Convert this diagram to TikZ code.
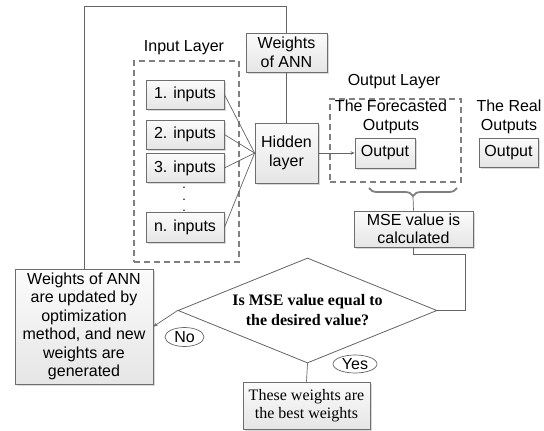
\documentclass[tikz,border=0pt]{standalone}
\usepackage{fontspec}
\setmainfont{Liberation Sans}
\newfontfamily\tnr{Liberation Serif}
\usetikzlibrary{shapes.geometric,shadows,arrows.meta,decorations.pathreplacing,calc}
\definecolor{linec}{RGB}{100,100,100}
\definecolor{boxline}{RGB}{110,110,110}
\begin{document}
\begin{tikzpicture}[x=1pt,y=-1pt,
  font=\fontsize{16}{18.5}\selectfont,
  box/.style={draw=boxline, line width=0.8pt, top color=gray!3, bottom color=gray!20,
    drop shadow={shadow xshift=1.5pt, shadow yshift=-1.5pt, opacity=0.3, fill=gray},
    inner sep=0pt, align=center},
  dashbox/.style={draw=gray, line width=1.1pt, dash pattern=on 6pt off 4pt, inner sep=0pt},
  lbl/.style={inner sep=0pt, align=center},
  conn/.style={draw=linec, line width=0.7pt},
  arr/.style={-{Stealth[length=4pt,width=3.5pt]}},
  oval/.style={ellipse, draw=linec, line width=0.7pt, fill=white, inner sep=0pt}
]
\useasboundingbox (0,0) rectangle (544,431);

% input layer
\node[lbl] (inl) at (184,48) {Input Layer};
\node[dashbox, minimum width=105, minimum height=201] (inbox) at (186.5,161.5) {};
\node[box, minimum width=78, minimum height=29] (in1) at (185,94.5) {1. inputs};
\node[box, minimum width=78, minimum height=29] (in2) at (185,134.5) {2. inputs};
\node[box, minimum width=78, minimum height=29] (in3) at (185,168) {3. inputs};
\node[lbl, font=\fontsize{9}{11.5}\selectfont\bfseries] (dots) at (184,199.5) {.\\.\\.};
\node[box, minimum width=78, minimum height=30] (in4) at (185,227.5) {n. inputs};

% weights & hidden
\node[box, minimum width=81, minimum height=39] (w) at (286.5,52.5) {Weights\\of ANN};
\node[box, minimum width=63, minimum height=60] (hid) at (286.5,153) {Hidden\\layer};

% output layer
\node[lbl] (outl) at (394,82) {Output Layer};
\node[dashbox, minimum width=131, minimum height=83] (outbox) at (395.5,140.5) {};
\node[lbl, font=\fontsize{16}{19.5}\selectfont] (fcl) at (391,117) {The Forecasted\\Outputs};
\node[box, minimum width=60, minimum height=30] (fout) at (385,153) {Output};
\node[lbl, font=\fontsize{16}{19.5}\selectfont] (rl) at (509,117) {The Real\\Outputs};
\node[box, minimum width=59, minimum height=29] (rout) at (508.5,152.5) {Output};

% MSE
\coordinate (b1) at (369,188);
\coordinate (b2) at (457,188);
\coordinate (btip) at (413,197);
\draw[draw=gray, line width=1.8pt, decorate, decoration={brace, mirror, amplitude=8pt}] (b1) -- (b2);
\node[box, minimum width=119, minimum height=36] (mse) at (413.5,229) {MSE value is\\calculated};

% decision
\node[diamond, draw=linec, line width=0.8pt, fill=white, aspect=2.47, inner sep=0pt,
  minimum width=259, minimum height=105, align=center,
  font=\tnr\bfseries\fontsize{16}{20}\selectfont] (dia) at (307.5,310.5)
  {Is MSE value equal to\\the desired value?};
\node[box, minimum width=138, minimum height=115] (upd) at (84,326.5)
  {Weights of ANN\\are updated by\\optimization\\method, and new\\weights are\\generated};
\node[box, minimum width=127, minimum height=47, font=\tnr\fontsize{16}{18.5}\selectfont] (best) at (306.5,405.5)
  {These weights are\\the best weights};
\node[oval, minimum width=39, minimum height=19] (no) at (184.5,337) {No};
\node[oval, minimum width=44, minimum height=18] (yes) at (355,364) {Yes};

% connectors
\coordinate (topl) at (84,6);
\draw[conn] (upd.north) -- (topl) -| (w.north);
\draw[conn] (w.south) -- (hid.north);
\draw[conn] (in1.east) -- (hid.west);
\draw[conn] (in2.east) -- (hid.west);
\draw[conn] (in3.east) -- (hid.west);
\draw[conn] (in4.east) -- (hid.west);
\draw[conn,arr] (hid.east) -- (fout.west);
\draw[conn] (btip) -- (mse.north);
\coordinate (rc) at (465,310.5);
\draw[conn] (mse.south) -- ++(0,7) -| (rc) -- (dia.east);
\draw[conn,arr] (dia.west) -- (upd.east);
\draw[conn] (dia.south) -- (best.north);
\end{tikzpicture}
\end{document}
